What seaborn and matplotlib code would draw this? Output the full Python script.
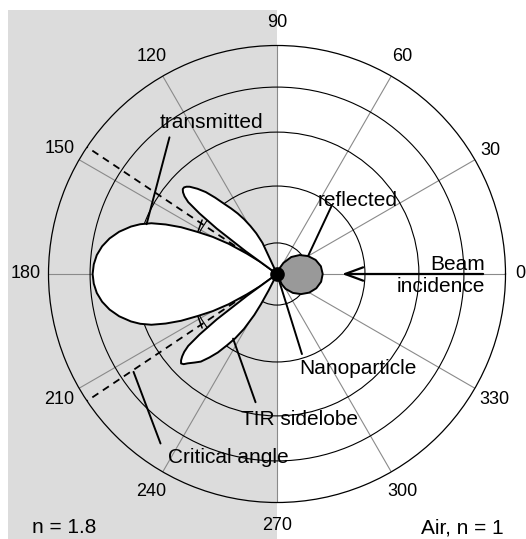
import numpy as np
import matplotlib
matplotlib.use("Agg")
import matplotlib.pyplot as plt
from matplotlib.patches import Rectangle
import seaborn as sns

# ---------------- data ----------------
# transmitted main lobe (degrees, normalised radius)
main_theta = [142, 144, 146, 148, 150, 152, 154, 156, 158, 160, 162, 165, 168, 171, 174, 177, 180,
              183, 186, 189, 192, 195, 198, 200, 202, 204, 206, 208, 210, 212, 214, 216, 218]
main_r = [0.0, 0.09, 0.16, 0.25, 0.325, 0.39, 0.467, 0.533, 0.593, 0.637, 0.672, 0.715, 0.749, 0.775,
          0.793, 0.803, 0.807,
          0.803, 0.793, 0.775, 0.749, 0.715, 0.672, 0.637, 0.593, 0.533, 0.467, 0.39, 0.325, 0.25,
          0.16, 0.09, 0.0]

# TIR side lobe, upper
up_theta = [113, 115, 117, 119, 121, 123, 125, 127, 129, 131, 133, 135, 136, 137, 138, 139, 140,
            141, 142, 143, 144, 145]
up_r = [0.0, 0.15, 0.20, 0.24, 0.28, 0.316, 0.35, 0.385, 0.43, 0.475, 0.51, 0.54, 0.55, 0.556,
        0.555, 0.545, 0.528, 0.50, 0.43, 0.33, 0.17, 0.0]

# TIR side lobe, lower
lo_theta = [215, 216, 217, 218, 219, 220, 221, 222, 223, 224, 225, 227, 229, 231, 233, 235, 237,
            239, 241, 242, 243, 244]
lo_r = [0.0, 0.16, 0.33, 0.43, 0.50, 0.53, 0.55, 0.565, 0.574, 0.568, 0.553, 0.53, 0.508, 0.47,
        0.43, 0.38, 0.335, 0.28, 0.205, 0.15, 0.08, 0.0]

# reflected lobe (air side)
refl_theta = [-72, -65, -60, -50, -40, -30, -20, -10, 0, 10, 20, 30, 40, 50, 60, 65, 70]
refl_r = [0.0, 0.05, 0.075, 0.108, 0.137, 0.163, 0.183, 0.196, 0.2, 0.195, 0.18, 0.157, 0.129,
          0.097, 0.056, 0.03, 0.0]

# critical angles for n = 1.8  (180 -/+ asin(1/1.8))
crit_angles = [146.25, 213.75]

angle_ticks = [0, 30, 60, 90, 120, 150, 180, 210, 240, 270, 300, 330]
angle_labels = [str(a) for a in angle_ticks]
ring_levels = [0.136, 0.385, 0.621, 0.818]

# ---------------- style ----------------
sns.set_style("white")
plt.rcParams['font.family'] = ['Liberation Sans', 'DejaVu Sans']

W, H = 526, 539
fig = plt.figure(figsize=(W / 100, H / 100), dpi=100)
fig.patch.set_facecolor('white')


def fp(x, y):
    return x / W, 1 - y / H


# gray half (glass, n = 1.8) on a background axes
bg = fig.add_axes([0, 0, 1, 1], zorder=0)
bg.set_xlim(0, 1)
bg.set_ylim(0, 1)
bg.axis('off')
bg.add_patch(Rectangle((8 / W, 0), (277 - 8) / W, 1 - 10 / H,
                       transform=bg.transAxes, facecolor='#dcdcdc', edgecolor='none'))

R = 228.5
cx, cy = 277, 274
ax = fig.add_axes([(cx - R) / W, (H - cy - R) / H, 2 * R / W, 2 * R / H],
                  projection='polar', zorder=1)
ax.set_facecolor('none')
ax.patch.set_alpha(0)
ax.set_theta_zero_location('E')
ax.set_theta_direction(1)
ax.set_ylim(0, 1)
ax.set_axisbelow(True)

ax.set_xticks(np.deg2rad(angle_ticks))
ax.set_xticklabels([''] * len(angle_ticks))
ax.set_xticks(np.deg2rad(np.arange(15, 360, 30)), minor=True)
ax.set_yticks(ring_levels)
ax.set_yticklabels([])
ax.xaxis.grid(True, color='#8a8a8a', lw=0.8)
ax.yaxis.grid(True, color='black', lw=0.8)
ax.tick_params(axis='x', which='major', direction='in', length=5, width=0.8, color='#555555', pad=0)
ax.tick_params(axis='x', which='minor', direction='in', length=2.5, width=0.8, color='black')
ax.spines['polar'].set_color('black')
ax.spines['polar'].set_linewidth(0.9)

# critical-angle dashed lines
for a in crit_angles:
    ax.plot([np.deg2rad(a)] * 2, [0, 1.0], color='black', lw=1.3,
            ls=(0, (4, 3)), zorder=1.5)


def lobe(theta, r, face, z):
    t = np.deg2rad(theta)
    ax.fill(t, r, facecolor=face, edgecolor='none', zorder=z)
    sns.lineplot(x=t, y=r, ax=ax, sort=False, estimator=None, color='black',
                 linewidth=1.4, zorder=z + 0.05)


lobe(main_theta, main_r, 'white', 2.0)
lobe(up_theta, up_r, 'white', 2.2)
lobe(lo_theta, lo_r, 'white', 2.3)
lobe(refl_theta, refl_r, '#999999', 2.4)
ax.set_xlabel('')
ax.set_ylabel('')
ax.set_ylim(0, 1)

# nanoparticle
ax.plot([0], [0], 'o', color='black', markersize=9.5, zorder=5)


def seg(t1, r1, t2, r2, lw=1.4):
    ax.annotate('', xy=(np.deg2rad(t2), r2), xytext=(np.deg2rad(t1), r1),
                arrowprops=dict(arrowstyle='-', lw=lw, color='black',
                                shrinkA=0, shrinkB=0), zorder=3)


# small marks across the gap between lobes
seg(151.4, 0.393, 144.2, 0.404, lw=1.1)
seg(208.6, 0.393, 215.8, 0.404, lw=1.1)

# annotation leader lines
seg(128.2, 0.761, 159.1, 0.611)     # transmitted
seg(51.2, 0.380, 30.0, 0.157)       # reflected
seg(287.3, 0.367, 287.3, 0.0)       # nanoparticle
seg(260.5, 0.569, 235.8, 0.342)     # TIR sidelobe
seg(235.5, 0.900, 214.3, 0.760)     # critical angle

# beam incidence arrow
ax.annotate('', xy=(0, 0.284), xytext=(0, 0.902),
            arrowprops=dict(arrowstyle='->,head_length=1.3,head_width=0.48',
                            mutation_scale=10, lw=1.6, color='black',
                            shrinkA=0, shrinkB=0), zorder=3)

# angle labels
label_r = {0: 1.065, 30: 1.08}
for a, lab in zip(angle_ticks, angle_labels):
    ax.text(np.deg2rad(a), label_r.get(a, 1.10), lab, ha='center', va='center',
            fontsize=13, color='black')

# texts
txt = dict(fontsize=15, color='black', va='baseline')
fig.text(*fp(211.8, 128.5), 'transmitted', ha='center', **txt)
fig.text(*fp(357.4, 206.0), 'reflected', ha='center', **txt)
fig.text(*fp(485, 270.0), 'Beam', ha='right', **txt)
fig.text(*fp(485, 292.0), 'incidence', ha='right', **txt)
fig.text(*fp(357.7, 373.5), 'Nanoparticle', ha='center', **txt)
fig.text(*fp(299.2, 425.0), 'TIR sidelobe', ha='center', **txt)
fig.text(*fp(228.1, 463.0), 'Critical angle', ha='center', **txt)
fig.text(*fp(63.7, 533.0), 'n = 1.8', ha='center', **txt)
fig.text(*fp(462.5, 533.0), 'Air, n = 1', ha='center', **txt)

fig.savefig('out.png', dpi=100)
